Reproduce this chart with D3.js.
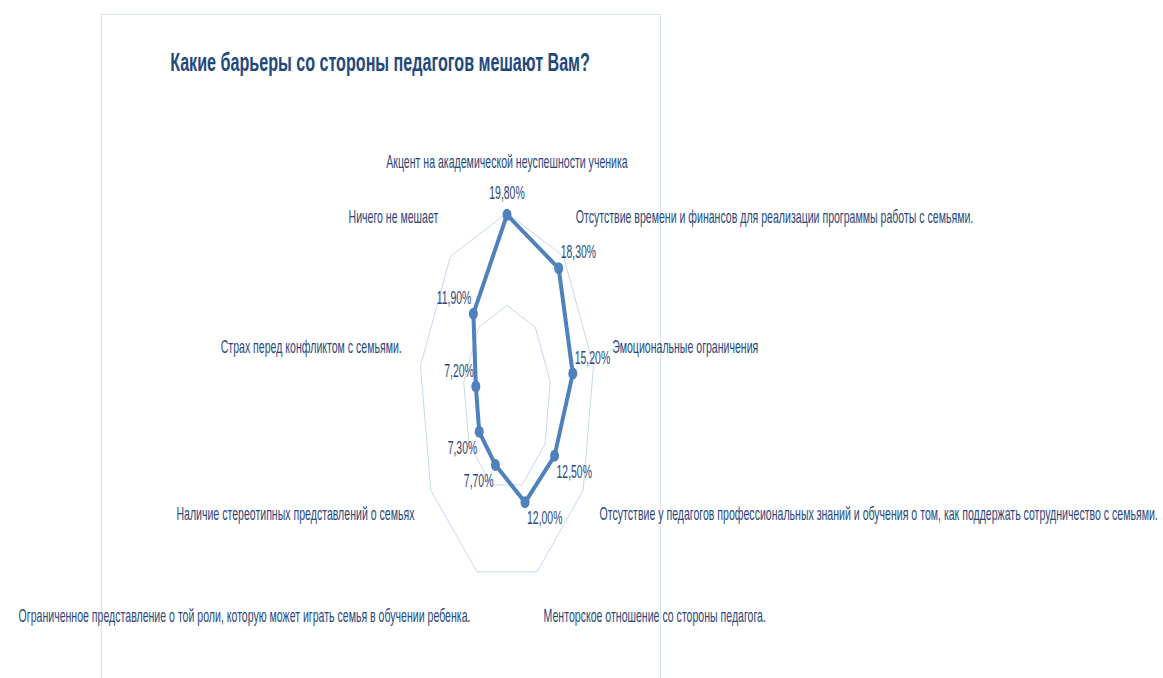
<!DOCTYPE html>
<html>
<head>
<meta charset="utf-8">
<script src="https://cdn.jsdelivr.net/npm/d3@7"></script>
<style>
  html, body { margin: 0; padding: 0; background: #fff; }
  svg { display: block; font-family: "Liberation Sans", Arial, sans-serif; }
</style>
</head>
<body>
<div id="vis"></div>
<script>
"use strict";
const [width, height] = [1163, 678];

const title = "Какие барьеры со стороны педагогов мешают Вам?";
const categories = [
  "Акцент на академической неуспешности ученика",
  "Отсутствие времени и финансов для реализации программы работы с семьями.",
  "Эмоциональные ограничения",
  "Отсутствие у педагогов профессиональных знаний и обучения о том, как поддержать сотрудничество с семьями.",
  "Менторское отношение со стороны педагога.",
  "Ограниченное представление о той роли, которую может играть семья в обучении ребенка.",
  "Наличие стереотипных представлений о семьях",
  "Страх перед конфликтом с семьями.",
  "Ничего не мешает"
];
const values = [19.8, 18.3, 15.2, 12.5, 12.0, 7.7, 7.3, 7.2, 11.9];
const gridLevels = [10, 20];

// the picture is squeezed sideways, so x gets its own factor
const cx = 507, cy = 398, sx = 0.475;
const n = categories.length;

const rScale = d3.scaleLinear().domain([0, 20]).range([0, 185]);
const aScale = d3.scaleLinear().domain([0, n]).range([0, 2 * Math.PI]);
const px = (i, r) => cx + sx * r * Math.sin(aScale(i));
const py = (i, r) => cy - r * Math.cos(aScale(i));
const fmt = v => d3.format(".2f")(v).replace(".", ",") + "%";

const svg = d3.select("#vis").append("svg")
  .attr("width", width).attr("height", height)
  .attr("viewBox", [0, 0, width, height]);

// chart area border
svg.append("rect")
  .attr("x", 101.5).attr("y", 14.5)
  .attr("width", 559).attr("height", 700)
  .attr("fill", "none").attr("stroke", "#d5e2f2").attr("stroke-width", 1);

function squeezedText(parent, x, y, txt, anchor, k) {
  return parent.append("g")
    .attr("transform", `translate(${x},${y}) scale(${k},1)`)
    .append("text")
      .attr("text-anchor", anchor)
      .attr("dominant-baseline", "central")
      .text(txt);
}

// title
squeezedText(svg, 380, 62, title, "middle", 0.645)
  .attr("font-size", 25).attr("font-weight", "bold").attr("fill", "#1f497d");

// grid rings
const ring = d3.line().curve(d3.curveLinearClosed);
svg.append("g").selectAll("path")
  .data(gridLevels)
  .join("path")
    .attr("d", lv => ring(d3.range(n).map(i => [px(i, rScale(lv)), py(i, rScale(lv))])))
    .attr("fill", "none")
    .attr("stroke", "#c6d9f0")
    .attr("stroke-width", 1);

// series
const pts = values.map((v, i) => [px(i, rScale(v)), py(i, rScale(v))]);
svg.append("path")
  .attr("d", ring(pts))
  .attr("fill", "none")
  .attr("stroke", "#4f81bd")
  .attr("stroke-width", 4)
  .attr("stroke-linejoin", "round");

svg.append("g").selectAll("ellipse")
  .data(pts)
  .join("ellipse")
    .attr("cx", d => d[0]).attr("cy", d => d[1])
    .attr("rx", 4.5).attr("ry", 6)
    .attr("fill", "#4f81bd");

// category labels
const catG = svg.append("g").attr("font-size", 18).attr("fill", "#2b477b");
categories.forEach((c, i) => {
  const s = Math.sin(aScale(i)), co = Math.cos(aScale(i));
  const anchor = Math.abs(s) < 0.1 ? "middle" : (s > 0 ? "start" : "end");
  const x = cx + sx * 225 * s;
  let y = cy - (co > 0 ? 236 : 232) * co;
  if (Math.abs(co) < 0.3) y -= 10;
  squeezedText(catG, x, y, c, anchor, 0.587);
});

// value labels
const valG = svg.append("g").attr("font-size", 18).attr("fill", "#2b477b");
values.forEach((v, i) => {
  const s = Math.sin(aScale(i)), co = Math.cos(aScale(i));
  const [x, y] = pts[i];
  let anchor = "middle", dx = 0, dy = -22;
  if (Math.abs(s) >= 0.1) {
    anchor = s > 0 ? "start" : "end";
    dx = s > 0 ? 2 : -2;
    dy = co > 0 ? -16 : 16;
  }
  squeezedText(valG, x + dx, y + dy, fmt(v), anchor, 0.58);
});
</script>
</body>
</html>
